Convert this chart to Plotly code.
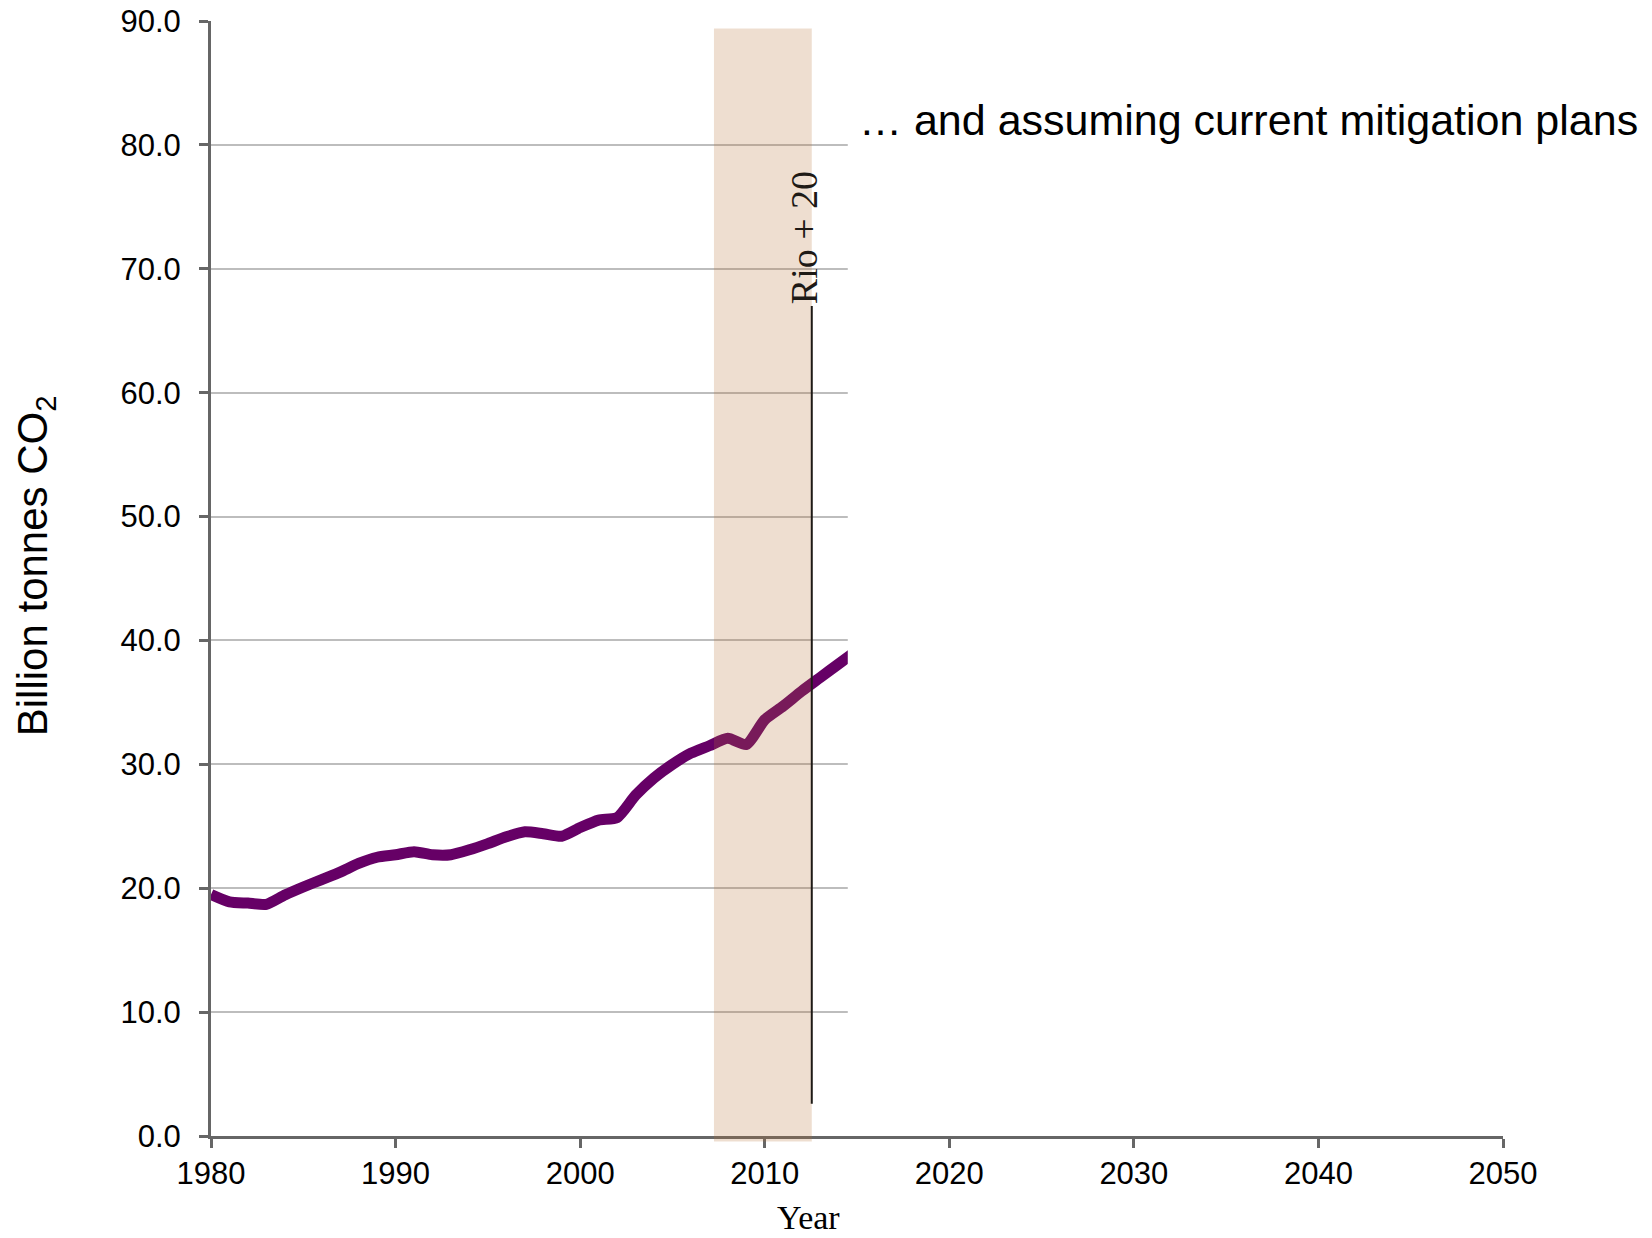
import plotly.graph_objects as go

# Global CO2 emissions, billion tonnes
years = list(range(1980, 2016))
emissions = [19.5, 18.9, 18.8, 18.7, 19.45, 20.1, 20.7, 21.3, 22.0, 22.5,
             22.7, 22.95, 22.7, 22.7, 23.1, 23.6, 24.15, 24.55, 24.4, 24.2,
             24.9, 25.5, 25.7, 27.5, 28.9, 30.0, 30.9, 31.5, 32.1, 31.6,
             33.6, 34.7, 35.9, 37.0, 38.1, 39.2]

x_ticks = [1980, 1990, 2000, 2010, 2020, 2030, 2040, 2050]
y_ticks = [0, 10, 20, 30, 40, 50, 60, 70, 80, 90]

rio_year = 2012.55
band_start, band_end = 2007.25, 2012.55
shown_until = 2014.5

fig = go.Figure()
fig.add_trace(go.Scatter(
    x=years, y=emissions, mode="lines",
    line=dict(color="#660066", width=11, shape="spline", smoothing=0.6),
    hoverinfo="skip", showlegend=False,
))

shapes = [
    # hide the not-yet-revealed part of the chart
    dict(type="rect", xref="x", yref="y", x0=shown_until, x1=2051, y0=0.4, y1=89.5,
         fillcolor="white", line=dict(width=0), layer="above"),
    # highlighted period
    dict(type="rect", xref="x", yref="paper", x0=band_start, x1=band_end,
         y0=-0.005, y1=89.4 / 90, fillcolor="rgb(181,111,50)", opacity=0.23,
         line=dict(width=0), layer="above"),
    # Rio + 20 marker
    dict(type="line", xref="x", yref="y", x0=rio_year, x1=rio_year, y0=2.6, y1=67,
         line=dict(color="#1e1a16", width=2), layer="above"),
]

annotations = [
    dict(text="Rio + 20", x=rio_year, y=67, xref="x", yref="y", textangle=-90,
         xanchor="center", yanchor="bottom", xshift=-7, showarrow=False,
         font=dict(family="Liberation Serif", size=38, color="#1e1a16")),
    dict(text="Year", x=rio_year, y=0, xref="x", yref="paper", xanchor="center",
         yanchor="middle", yshift=-81, xshift=-3, showarrow=False, borderpad=0,
         font=dict(family="Liberation Serif", size=34, color="black")),
    dict(text="\u2026 and assuming current mitigation plans", x=0.5, y=0.911,
         xref="paper", yref="paper", xanchor="left", yanchor="middle",
         showarrow=False, font=dict(family="Liberation Sans", size=43, color="black")),
    dict(text="Billion tonnes CO<sub>2</sub>", x=0, y=0.511, xref="paper", yref="paper",
         textangle=-90, xanchor="center", yanchor="middle", xshift=-176,
         showarrow=False, font=dict(family="Liberation Sans", size=42, color="black")),
]

fig.update_layout(
    width=1652, height=1238,
    margin=dict(l=211, r=149, t=21, b=102),
    paper_bgcolor="white", plot_bgcolor="white",
    shapes=shapes, annotations=annotations,
    font=dict(family="Liberation Sans", color="black"),
    xaxis=dict(range=[1980, 2050], tickvals=x_ticks, ticktext=[str(v) for v in x_ticks],
               automargin=False, showgrid=False, zeroline=False, showline=True,
               linecolor="#666666", linewidth=3, ticks="outside", ticklen=9, tickwidth=3,
               tickcolor="#666666", tickfont=dict(size=31, color="black"),
               ticklabelstandoff=-1),
    yaxis=dict(range=[0, 90], tickvals=y_ticks, ticktext=[f"{v:.1f}" for v in y_ticks],
               automargin=False, showgrid=True, gridcolor="#bdbdbd", gridwidth=1.5,
               zeroline=False, showline=True, linecolor="#666666", linewidth=3,
               ticks="outside", ticklen=9, tickwidth=3, tickcolor="#666666",
               tickfont=dict(size=31, color="black"), ticklabelstandoff=12),
)

fig.write_html("out.html")
